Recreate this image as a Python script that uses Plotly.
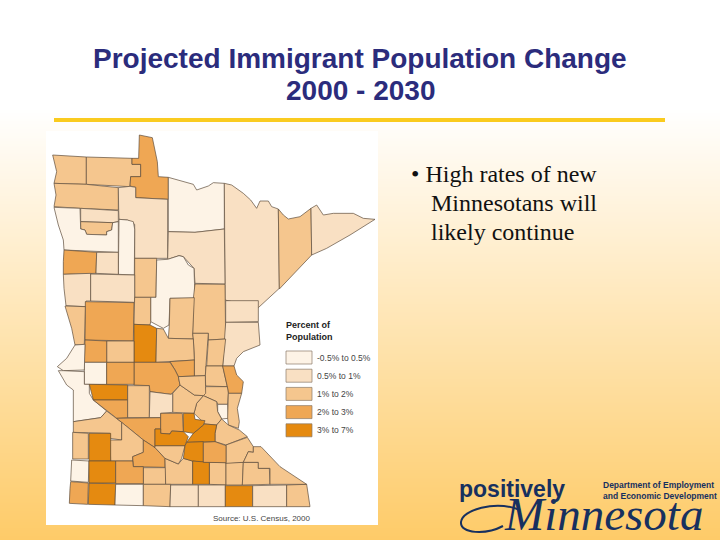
import plotly.graph_objects as go

title_lines = ["Projected Immigrant Population Change", "2000 - 2030"]
bullet_lines = ["• High rates of new", "Minnesotans will", "likely continue"]
legend_title = ["Percent of", "Population"]
legend_labels = ["-0.5% to 0.5%", "0.5% to 1%", "1% to 2%", "2% to 3%", "3% to 7%"]
bin_colors = ["#FDF3E6", "#F9E0C3", "#F5C68E", "#EFA754", "#E58A10"]
source_text = "Source: U.S. Census, 2000"

# background stops, pixel row -> share of the bottom colour
grad_rows = [0, 108, 216, 324, 432, 540]
grad_share = [0, 0, 0.25, 0.5, 0.75, 1]

# white map panel and yellow rule, in pixels
panel_x = [46, 378, 378, 46]
panel_y = [131, 131, 525, 525]
rule_x = [54, 665, 665, 54]
rule_y = [118, 118, 122, 122]

# county outlines (map units: 3 per screen pixel)
county_bins = [
    2, 2, 3, 2, 1, 0, 1, 2, 1, 1,
    1, 2, 0, 0, 3, 1, 2, 0, 1, 1,
    3, 2, 2, 4, 2, 2, 1, 1, 2, 2,
    2, 3, 2, 3, 2, 0, 2, 2, 2, 2,
    3, 2, 2, 3, 0, 3, 0, 0, 4, 3,
    2, 1, 2, 3, 2, 3, 2, 2, 4, 0,
    4, 3, 2, 2, 2, 2, 4, 4, 4, 2,
    4, 3, 2, 3, 4, 0, 2, 1, 1, 4,
    1, 2, 4, 3, 2,
]
county_x = [
    [38, 139, 139, 42, 50],
    [139, 276, 276, 302, 302, 272, 270, 139],
    [298, 337, 352, 355, 385, 385, 287, 287, 270, 272, 302, 302, 276, 276, 296],
    [42, 139, 235, 235, 120, 42, 48],
    [235, 270, 287, 287, 383, 383, 284, 284, 262, 237, 236],
    [385, 430, 460, 470, 505, 520, 553, 553, 465, 385],
    [553, 575, 610, 632, 650, 660, 685, 695, 715, 718, 655, 555, 555],
    [715, 730, 745, 780, 813, 815, 718],
    [813, 830, 850, 880, 940, 970, 1005, 930, 860, 815],
    [385, 465, 553, 555, 465, 462, 430, 417, 383],
    [122, 235, 235, 218, 122],
    [122, 218, 215, 200, 200, 140, 135, 122],
    [42, 120, 122, 135, 140, 200, 200, 215, 218, 235, 235, 72, 70, 55],
    [237, 262, 280, 284, 283, 235],
    [72, 170, 168, 70, 70],
    [170, 235, 235, 168],
    [284, 350, 348, 284],
    [350, 383, 417, 430, 445, 462, 465, 390, 387, 370, 332, 332, 348],
    [70, 152, 152, 138, 138, 78, 72],
    [152, 284, 284, 152],
    [136, 282, 280, 135],
    [75, 136, 133, 105, 95],
    [284, 332, 332, 330, 282],
    [282, 330, 350, 348, 282],
    [465, 555, 557, 505, 505, 458, 460],
    [390, 463, 458, 460, 385, 388],
    [557, 655, 655, 557],
    [557, 655, 660, 610, 590, 582, 548, 555],
    [458, 505, 498, 496, 463, 463, 460],
    [505, 557, 548, 500],
    [350, 370, 385, 460, 463, 390, 348],
    [390, 463, 463, 415, 405],
    [498, 548, 562, 497, 496],
    [548, 582, 590, 610, 605, 565, 562],
    [497, 562, 565, 563, 533, 530, 490],
    [533, 563, 565, 545, 533],
    [565, 605, 592, 598, 595, 565, 563, 563],
    [490, 530, 533, 545, 530, 495, 462, 470],
    [530, 545, 565, 598, 622, 558, 525, 525],
    [398, 420, 463, 490, 470, 462, 398],
    [282, 390, 405, 415, 420, 398, 393, 330, 328, 282],
    [415, 496, 497, 490, 463, 420],
    [200, 282, 282, 200],
    [135, 200, 200, 133],
    [133, 200, 200, 133],
    [200, 282, 282, 200],
    [105, 135, 133, 70, 52, 80],
    [70, 133, 133, 148, 148, 160, 200, 182, 100, 100, 80, 55],
    [148, 263, 263, 160],
    [160, 263, 263, 230],
    [263, 328, 328, 263],
    [330, 393, 398, 398, 362, 362, 328],
    [100, 182, 200, 230, 245, 245, 210, 210, 100],
    [230, 362, 362, 345, 345, 310],
    [245, 310, 310, 278, 278, 212, 210, 245],
    [310, 345, 375, 375, 280, 278, 310],
    [98, 145, 145, 98],
    [310, 377, 377, 310],
    [147, 212, 212, 147],
    [95, 147, 145, 92],
    [147, 227, 227, 147],
    [227, 278, 280, 310, 310, 227],
    [375, 415, 430, 458, 458, 377],
    [345, 435, 425, 415, 375, 345],
    [508, 558, 558, 508],
    [558, 610, 607, 558],
    [440, 460, 490, 495, 530, 525, 525],
    [440, 490, 490, 457, 430, 435],
    [458, 490, 508, 508, 458],
    [610, 655, 655, 688, 690, 607],
    [430, 462, 465, 495, 490, 460, 430],
    [362, 427, 430, 395, 390, 362],
    [558, 622, 640, 640, 625, 610, 558],
    [92, 145, 143, 88, 90],
    [147, 227, 225, 145],
    [227, 310, 310, 225],
    [310, 392, 390, 310],
    [392, 475, 475, 390],
    [475, 556, 556, 475],
    [556, 638, 638, 556],
    [638, 740, 740, 638],
    [740, 800, 810, 740],
    [345, 362, 362, 390, 395, 430, 445, 440, 435, 345],
    [490, 525, 558, 558, 490],
    [640, 663, 720, 800, 690, 690, 655, 655, 610, 625, 640],
]
county_y = [
    [90, 96, 178, 175, 140],
    [96, 100, 118, 118, 155, 155, 185, 178],
    [30, 38, 110, 155, 157, 223, 218, 187, 183, 155, 155, 118, 118, 100, 100],
    [175, 178, 188, 255, 250, 245, 210],
    [188, 184, 187, 218, 223, 400, 400, 298, 285, 283, 255],
    [157, 170, 178, 195, 183, 173, 175, 312, 322, 320],
    [175, 180, 205, 225, 250, 228, 228, 245, 252, 490, 548, 525, 475],
    [252, 270, 282, 275, 250, 390, 492],
    [250, 240, 270, 265, 265, 280, 283, 330, 370, 390],
    [320, 322, 312, 477, 475, 430, 395, 392, 403],
    [250, 257, 290, 293, 290],
    [290, 293, 315, 320, 330, 328, 315, 312],
    [247, 250, 312, 315, 328, 330, 320, 315, 293, 290, 382, 375, 345, 300],
    [283, 285, 290, 312, 450, 448],
    [375, 382, 445, 448, 410],
    [382, 382, 448, 445],
    [400, 400, 517, 517],
    [405, 403, 392, 395, 420, 430, 520, 520, 600, 610, 590, 517, 517],
    [448, 445, 528, 528, 545, 542, 490],
    [447, 450, 532, 528],
    [530, 533, 648, 645],
    [543, 545, 658, 660, 610],
    [517, 517, 590, 600, 598],
    [598, 600, 610, 712, 712],
    [477, 478, 642, 645, 625, 625, 520],
    [520, 518, 625, 642, 640, 600],
    [527, 527, 590, 592],
    [592, 592, 660, 680, 700, 723, 723, 640],
    [625, 625, 720, 752, 753, 700, 642],
    [645, 642, 723, 723],
    [610, 612, 640, 642, 705, 710, 712],
    [710, 705, 753, 755, 735],
    [723, 723, 785, 783, 752],
    [723, 723, 750, 770, 805, 805, 785],
    [785, 785, 805, 838, 838, 830, 812],
    [838, 838, 880, 882, 860],
    [805, 805, 850, 890, 910, 900, 880, 838],
    [812, 830, 860, 882, 900, 897, 865, 835],
    [900, 882, 900, 915, 935, 960, 950, 925],
    [805, 780, 810, 812, 835, 865, 862],
    [712, 712, 735, 755, 780, 805, 808, 800, 782, 780],
    [755, 752, 805, 812, 810, 780],
    [648, 648, 712, 712],
    [645, 648, 712, 712],
    [712, 712, 778, 778],
    [712, 712, 778, 778],
    [660, 658, 735, 737, 725, 700],
    [737, 740, 778, 778, 805, 825, 858, 878, 890, 795, 780, 737],
    [778, 780, 825, 825],
    [825, 825, 878, 880],
    [782, 782, 878, 878],
    [800, 808, 805, 862, 865, 878, 878],
    [890, 878, 858, 880, 892, 945, 940, 925, 922],
    [880, 878, 912, 912, 968, 945],
    [892, 945, 982, 995, 1008, 1008, 945, 945],
    [945, 968, 1000, 1027, 1025, 995, 982],
    [922, 925, 1002, 1002],
    [1028, 1028, 1078, 1078],
    [925, 925, 1008, 1008],
    [1005, 1008, 1072, 1068],
    [1008, 1008, 1074, 1074],
    [1008, 1008, 1025, 1025, 1076, 1076],
    [1000, 1017, 1000, 1008, 1078, 1078],
    [962, 962, 1000, 1017, 1000, 968],
    [1012, 1013, 1080, 1078],
    [1013, 1012, 1080, 1080],
    [952, 925, 900, 897, 900, 925, 950],
    [952, 950, 1012, 1008, 1000, 962],
    [1008, 1012, 1012, 1078, 1078],
    [1012, 1012, 1030, 1030, 1078, 1080],
    [865, 865, 883, 887, 900, 925, 920],
    [865, 865, 920, 918, 927, 925],
    [960, 937, 965, 982, 980, 1012, 1015],
    [1070, 1074, 1138, 1135, 1090],
    [1075, 1076, 1140, 1138],
    [1078, 1078, 1142, 1140],
    [1078, 1078, 1145, 1142],
    [1080, 1080, 1145, 1145],
    [1080, 1080, 1145, 1145],
    [1082, 1082, 1145, 1145],
    [1082, 1080, 1145, 1145],
    [1080, 1078, 1145, 1145],
    [912, 912, 925, 927, 918, 920, 935, 952, 962, 962],
    [952, 950, 962, 1013, 1012],
    [965, 965, 1025, 1078, 1078, 1030, 1030, 1012, 1012, 980, 982],
]

fig = go.Figure()

fig.add_trace(go.Heatmap(
    x=[0, 720], y=grad_rows, z=[[s, s] for s in grad_share],
    colorscale=[[0, "#FFFFFF"], [1, "#FECB68"]], zmin=0, zmax=1,
    zsmooth="best", showscale=False, hoverinfo="skip",
))

for xs, ys, col in [(rule_x, rule_y, "#FACB1E"), (panel_x, panel_y, "#FFFFFF")]:
    fig.add_trace(go.Scatter(x=xs, y=ys, mode="lines", fill="toself", fillcolor=col,
                             line=dict(width=0), hoverinfo="skip"))

for b, xs, ys in zip(county_bins, county_x, county_y):
    fig.add_trace(go.Scatter(
        x=[40 + v / 3 for v in xs + xs[:1]], y=[125 + v / 3 for v in ys + ys[:1]],
        mode="lines", fill="toself", fillcolor=bin_colors[b],
        line=dict(color="#5E4E3C", width=0.7), hoverinfo="skip",
    ))

shapes = []
annotations = []


def txt(x, y, s, size, color, family="Liberation Sans", anchor="left", bold=False, italic=False):
    if bold:
        s = "<b>" + s + "</b>"
    if italic:
        s = "<i>" + s + "</i>"
    annotations.append(dict(
        x=x, y=y, text=s, xref="x", yref="y", showarrow=False, xanchor=anchor, yanchor="middle",
        font=dict(family=family, size=size, color=color),
    ))


for i, line in enumerate(title_lines):
    txt(360, 58 + 32 * i, line, 28, "#2B2C7C", anchor="center", bold=True)

txt(409, 174, bullet_lines[0], 24, "#111111", family="Liberation Serif")
txt(429, 203, bullet_lines[1], 24, "#111111", family="Liberation Serif")
txt(429, 232, bullet_lines[2], 24, "#111111", family="Liberation Serif")

txt(284, 325, legend_title[0], 9, "#222222", bold=True)
txt(284, 337, legend_title[1], 9, "#222222", bold=True)
for i, (lab, col) in enumerate(zip(legend_labels, bin_colors)):
    top = 351 + 18.2 * i
    shapes.append(dict(type="rect", x0=286, x1=312, y0=top, y1=top + 13, fillcolor=col,
                       line=dict(color="#8A7A68", width=0.7), layer="above"))
    txt(315, top + 6.5, lab, 8.5, "#444444")
txt(211, 518, source_text, 8, "#444444")

# logo
navy = "#17305F"
txt(457, 489, "positively", 23, navy, bold=True)
txt(601, 485, "Department of Employment", 8.5, navy, bold=True)
txt(601, 496, "and Economic Development", 8.5, navy, bold=True)
txt(502, 514, "Minnesota", 47, navy, family="Liberation Serif", italic=True)
shapes.append(dict(type="path", path="M 520 510 C 495 500 462 510 461 522 C 460 534 486 535 503 526",
                   line=dict(color=navy, width=2), layer="above"))

fig.update_layout(
    width=720, height=540, margin=dict(l=0, r=0, t=0, b=0),
    showlegend=False, paper_bgcolor="#FFFFFF", plot_bgcolor="#FFFFFF",
    xaxis=dict(range=[0, 720], visible=False, fixedrange=True),
    yaxis=dict(range=[540, 0], visible=False, fixedrange=True),
    shapes=shapes, annotations=annotations,
)

fig.write_html("out.html", config=dict(displayModeBar=False),
               post_script="document.body.style.margin='0';")
